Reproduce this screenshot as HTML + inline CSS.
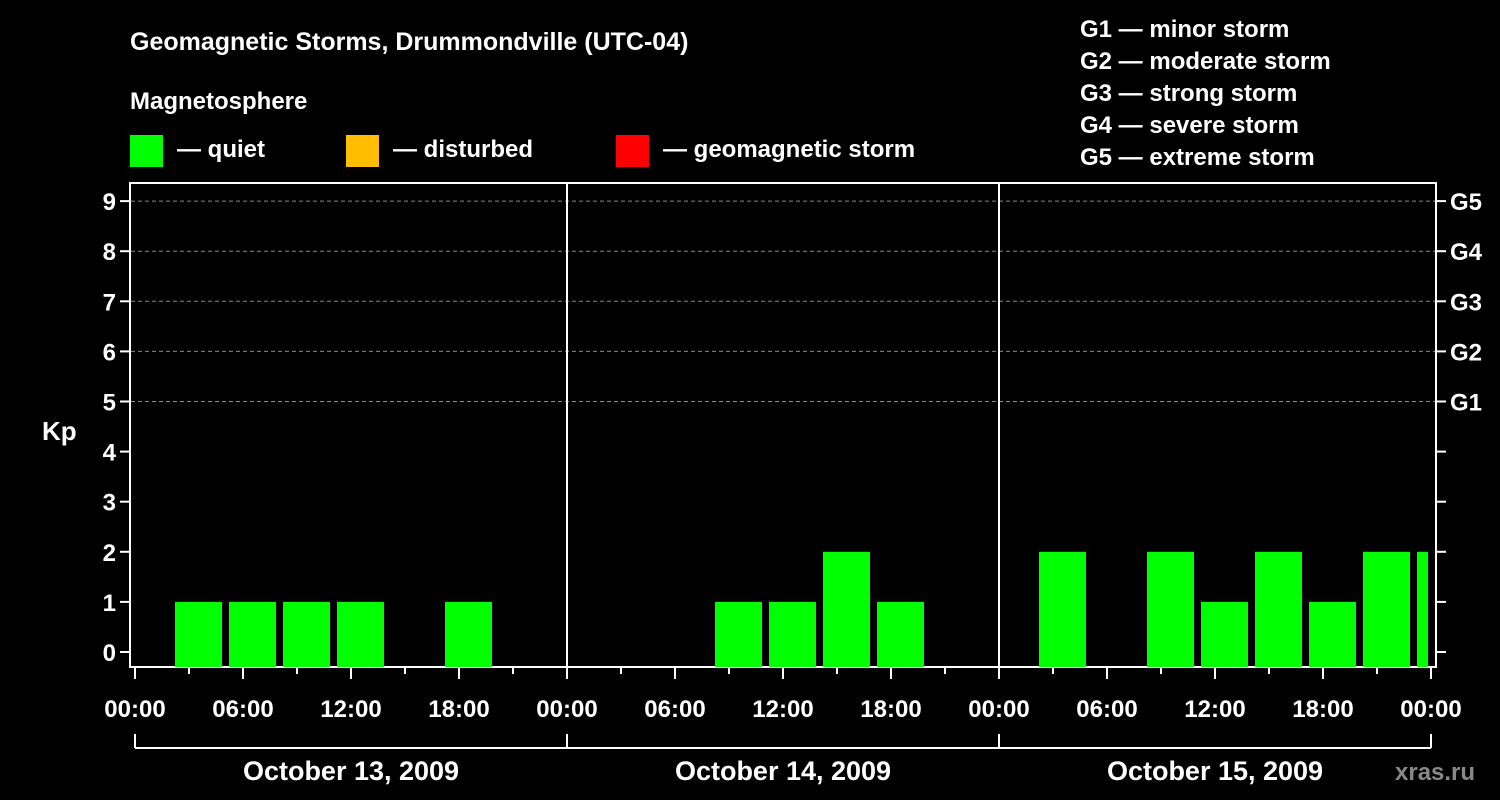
<!DOCTYPE html>
<html><head><meta charset="utf-8"><style>
body{margin:0;background:#000;}
svg{display:block;font-family:"Liberation Sans",sans-serif;font-weight:bold;}
</style></head><body>
<svg id="chart" width="1500" height="800" xmlns="http://www.w3.org/2000/svg">
<rect width="1500" height="800" fill="#000"/>
<text x="130" y="50" fill="#fff" font-size="25">Geomagnetic Storms, Drummondville (UTC-04)</text>
<text x="130" y="109" fill="#fff" font-size="24">Magnetosphere</text>
<g><rect x="130" y="135" width="33" height="32" fill="#00ff00"/><text x="177" y="157" fill="#fff" font-size="24">— quiet</text></g>
<g><rect x="346" y="135" width="33" height="32" fill="#ffbf00"/><text x="393" y="157" fill="#fff" font-size="24">— disturbed</text></g>
<g><rect x="616" y="135" width="33" height="32" fill="#ff0000"/><text x="663" y="157" fill="#fff" font-size="24">— geomagnetic storm</text></g>
<g fill="#fff" font-size="24">
<text x="1080" y="37">G1 — minor storm</text>
<text x="1080" y="69">G2 — moderate storm</text>
<text x="1080" y="101">G3 — strong storm</text>
<text x="1080" y="133">G4 — severe storm</text>
<text x="1080" y="165">G5 — extreme storm</text>
</g>
<text x="42" y="440" fill="#fff" font-size="26">Kp</text>
<text x="1395" y="780" fill="#888" font-size="24">xras.ru</text>
<g id="plot"></g>
</svg>
<script>
const binStartHours=[-1,2,5,8,11,14,17,20,23,26,29,32,35,38,41,44,47,50,53,56,59,62,65,68,71];
const kpValues=[0,1,1,1,1,0,1,0,0,0,0,1,1,2,1,0,0,2,0,2,1,2,1,2,2];
const dayLabels=["October 13, 2009","October 14, 2009","October 15, 2009"];
const hourLabels=["00:00","06:00","12:00","18:00"];
const gLabels=["G1","G2","G3","G4","G5"];
const NS="http://www.w3.org/2000/svg";
const g=document.getElementById('plot');
const X0=135,PXH=18,X1=X0+72*PXH,Y0=652,PXK=50.1,TOP=183,BOT=667;
const xs=h=>X0+h*PXH, ys=k=>Y0-k*PXK;
function el(t,a,txt){const e=document.createElementNS(NS,t);for(const k in a)e.setAttribute(k,a[k]);if(txt!==undefined)e.textContent=txt;g.appendChild(e);return e;}
// frame
let f=el('rect',{x:130,y:TOP,width:X1+5-130,height:BOT-TOP,fill:'none',stroke:'#fff','stroke-width':2});


// grid and y ticks
for(let k=0;k<=9;k++){
  const y=ys(k);
  if(k>=5){let l=el('line',{x1:131,x2:X1+4,y1:y,y2:y,stroke:'#888','stroke-dasharray':'4,3','stroke-width':1});
    
    }
  el('line',{x1:120,x2:130,y1:y,y2:y,stroke:'#fff','stroke-width':2});
  el('line',{x1:X1+5,x2:X1+15,y1:y,y2:y,stroke:'#fff','stroke-width':2});
  let t=el('text',{x:116,y:y+9,fill:'#fff','font-size':24,'text-anchor':'end'},String(k));
  
  
  if(k>=5){let r=el('text',{x:1450,y:y+9,fill:'#fff','font-size':24},gLabels[k-5]);
    
    }
}
// bars
binStartHours.forEach((h,i)=>{
  const v=kpValues[i]; if(!v) return;
  let xa=Math.max(xs(h)+4,131), xb=Math.min(xs(h+3)-3,X1-3);
  let r=el('rect',{x:xa,y:ys(v),width:xb-xa,height:Y0+15-ys(v),fill:'#00ff00'});
  
  
});
// day separators
for(let d=1;d<3;d++){let l=el('line',{x1:xs(d*24),x2:xs(d*24),y1:TOP,y2:BOT,stroke:'#fff','stroke-width':2});
  
  }
// x ticks
for(let h=0;h<=72;h+=3){
  const x=xs(h);
  el('line',{x1:x,x2:x,y1:BOT,y2:BOT+(h%6===0?12:7),stroke:'#fff','stroke-width':2});
  if(h%6===0){let t=el('text',{x:x,y:717,fill:'#fff','font-size':24,'text-anchor':'middle'},hourLabels[(h%24)/6]);
    
    }
}
// day bracket
el('line',{x1:X0,x2:X1,y1:748,y2:748,stroke:'#fff','stroke-width':2});
for(let d=0;d<=3;d++)el('line',{x1:xs(d*24),x2:xs(d*24),y1:734,y2:748,stroke:'#fff','stroke-width':2});
dayLabels.forEach((s,d)=>{let t=el('text',{x:xs(d*24+12),y:780,fill:'#fff','font-size':27,'text-anchor':'middle'},s);
  
  });
</script>
</body></html>
